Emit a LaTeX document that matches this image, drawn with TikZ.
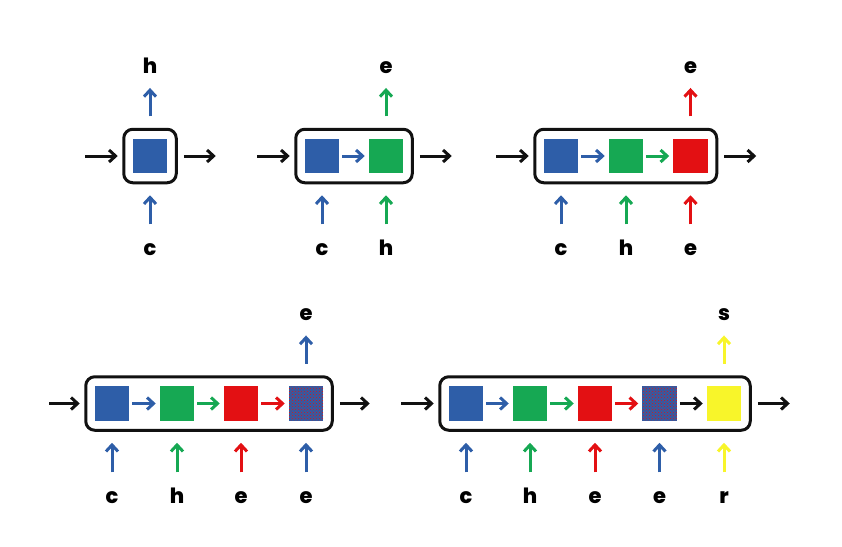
\documentclass[tikz,border=0pt]{standalone}
\usepackage{fontspec}
\setmainfont{Poppins}
\newfontfamily\labfont{Poppins ExtraBold}
\usetikzlibrary{arrows.meta,fit,patterns}
\definecolor{cB}{HTML}{2E5EA8}
\definecolor{cG}{HTML}{16A853}
\definecolor{cR}{HTML}{E31013}
\definecolor{cY}{HTML}{F8F52A}
\definecolor{cK}{HTML}{111111}
\tikzset{
  sq/.style={minimum size=34.5pt, inner sep=0pt, outer sep=0pt},
  dotsq/.style={sq, fill=cB, postaction={pattern=crosshatch dots, pattern color=cR}},
  cbox/.style={draw=cK, line width=3pt, rounded corners=9pt, inner xsep=9pt, inner ysep=9.5pt},
  ar/.style={line width=3pt, -{Straight Barb[length=6.5pt,width=12pt]}},
  lab/.style={font=\labfont\fontsize{21}{21}\selectfont, inner sep=0pt, text height=15pt, text depth=0pt, anchor=base},
  upin/.style={shorten <=15.5pt, shorten >=11pt},
  upout/.style={shorten <=11.5pt, shorten >=14.75pt},
  inner/.style={ar, shorten <=3pt, shorten >=4pt},
  leftin/.style={ar, cK, shorten >=4.5pt},
  rightout/.style={ar, cK, shorten <=6pt},
}
\begin{document}
\begin{tikzpicture}[x=1pt,y=-1pt]
\useasboundingbox (0,0) rectangle (842,546);

% ---------- Diagram 1 ----------
\node[sq, fill=cB] (a1) at (150,156) {};
\node[cbox, fit=(a1)] (A) {};
\node[lab] (Ab1) at (150,255) {c};
\node[lab] (At) at (150,73) {h};
\coordinate (Ain) at ([xshift=-37pt]A.west);
\coordinate (Aout) at ([xshift=38pt]A.east);
\draw[leftin] (Ain) -- (A.west);
\draw[rightout] (A.east) -- (Aout);
\draw[ar, cB, upin] (Ab1.north) -- (A.south -| Ab1);
\draw[ar, cB, upout] (A.north -| At) -- (At.south);

% ---------- Diagram 2 ----------
\node[sq, fill=cB] (b1) at (322,156) {};
\node[sq, fill=cG] (b2) at (386,156) {};
\node[cbox, fit=(b1)(b2)] (B) {};
\node[lab] (Bb1) at (322,255) {c};
\node[lab] (Bb2) at (386,255) {h};
\node[lab] (Bt) at (386,73) {e};
\coordinate (Bin) at ([xshift=-37pt]B.west);
\coordinate (Bout) at ([xshift=38pt]B.east);
\draw[leftin] (Bin) -- (B.west);
\draw[rightout] (B.east) -- (Bout);
\draw[inner, cB] (b1.east) -- (b2.west);
\draw[ar, cB, upin] (Bb1.north) -- (B.south -| Bb1);
\draw[ar, cG, upin] (Bb2.north) -- (B.south -| Bb2);
\draw[ar, cG, upout] (B.north -| Bt) -- (Bt.south);

% ---------- Diagram 3 ----------
\node[sq, fill=cB] (c1) at (561,156) {};
\node[sq, fill=cG] (c2) at (626,156) {};
\node[sq, fill=cR] (c3) at (690.5,156) {};
\node[cbox, fit=(c1)(c3)] (C) {};
\node[lab] (Cb1) at (561,255) {c};
\node[lab] (Cb2) at (626,255) {h};
\node[lab] (Cb3) at (690.5,255) {e};
\node[lab] (Ct) at (690.5,73) {e};
\coordinate (Cin) at ([xshift=-37pt]C.west);
\coordinate (Cout) at ([xshift=38pt]C.east);
\draw[leftin] (Cin) -- (C.west);
\draw[rightout] (C.east) -- (Cout);
\draw[inner, cB] (c1.east) -- (c2.west);
\draw[inner, cG] (c2.east) -- (c3.west);
\draw[ar, cB, upin] (Cb1.north) -- (C.south -| Cb1);
\draw[ar, cG, upin] (Cb2.north) -- (C.south -| Cb2);
\draw[ar, cR, upin] (Cb3.north) -- (C.south -| Cb3);
\draw[ar, cR, upout] (C.north -| Ct) -- (Ct.south);

% ---------- Diagram 4 ----------
\node[sq, fill=cB] (d1) at (112,403.5) {};
\node[sq, fill=cG] (d2) at (177,403.5) {};
\node[sq, fill=cR] (d3) at (241,403.5) {};
\node[dotsq] (d4) at (306,403.5) {};
\node[cbox, fit=(d1)(d4)] (D) {};
\node[lab] (Db1) at (112,503) {c};
\node[lab] (Db2) at (177,503) {h};
\node[lab] (Db3) at (241,503) {e};
\node[lab] (Db4) at (306,503) {e};
\node[lab] (Dt) at (306,320.5) {e};
\coordinate (Din) at ([xshift=-35pt]D.west);
\coordinate (Dout) at ([xshift=36pt]D.east);
\draw[leftin] (Din) -- (D.west);
\draw[rightout] (D.east) -- (Dout);
\draw[inner, cB] (d1.east) -- (d2.west);
\draw[inner, cG] (d2.east) -- (d3.west);
\draw[inner, cR] (d3.east) -- (d4.west);
\draw[ar, cB, upin] (Db1.north) -- (D.south -| Db1);
\draw[ar, cG, upin] (Db2.north) -- (D.south -| Db2);
\draw[ar, cR, upin] (Db3.north) -- (D.south -| Db3);
\draw[ar, cB, upin] (Db4.north) -- (D.south -| Db4);
\draw[ar, cB, upout] (D.north -| Dt) -- (Dt.south);

% ---------- Diagram 5 ----------
\node[sq, fill=cB] (e1) at (466,403.5) {};
\node[sq, fill=cG] (e2) at (530,403.5) {};
\node[sq, fill=cR] (e3) at (595,403.5) {};
\node[dotsq] (e4) at (659.5,403.5) {};
\node[sq, fill=cY] (e5) at (724,403.5) {};
\node[cbox, fit=(e1)(e5)] (E) {};
\node[lab] (Eb1) at (466,503) {c};
\node[lab] (Eb2) at (530,503) {h};
\node[lab] (Eb3) at (595,503) {e};
\node[lab] (Eb4) at (659.5,503) {e};
\node[lab] (Eb5) at (724,503) {r};
\node[lab] (Et) at (724,320.5) {s};
\coordinate (Ein) at ([xshift=-37pt]E.west);
\coordinate (Eout) at ([xshift=38pt]E.east);
\draw[leftin] (Ein) -- (E.west);
\draw[rightout] (E.east) -- (Eout);
\draw[inner, cB] (e1.east) -- (e2.west);
\draw[inner, cG] (e2.east) -- (e3.west);
\draw[inner, cR] (e3.east) -- (e4.west);
\draw[inner, cK] (e4.east) -- (e5.west);
\draw[ar, cB, upin] (Eb1.north) -- (E.south -| Eb1);
\draw[ar, cG, upin] (Eb2.north) -- (E.south -| Eb2);
\draw[ar, cR, upin] (Eb3.north) -- (E.south -| Eb3);
\draw[ar, cB, upin] (Eb4.north) -- (E.south -| Eb4);
\draw[ar, cY, upin] (Eb5.north) -- (E.south -| Eb5);
\draw[ar, cY, upout] (E.north -| Et) -- (Et.south);
\end{tikzpicture}
\end{document}
